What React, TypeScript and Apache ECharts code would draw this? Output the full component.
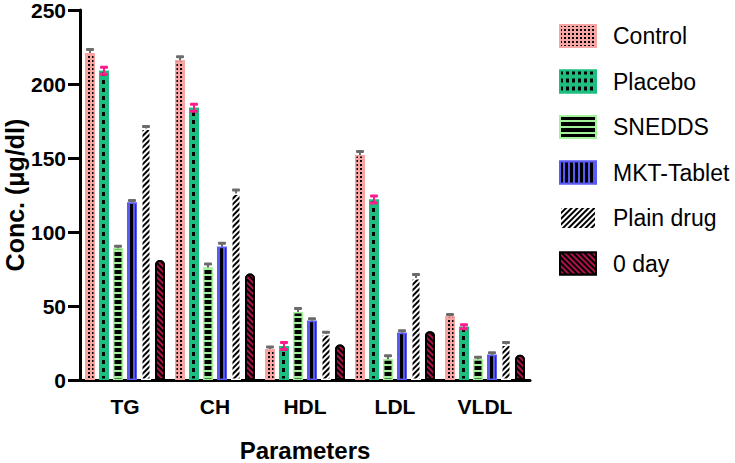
import React, { useEffect, useRef } from "react";
import * as echarts from "echarts";

const categories = ["TG", "CH", "HDL", "LDL", "VLDL"];
const seriesNames = ["Control", "Placebo", "SNEDDS", "MKT-Tablet", "Plain drug", "0 day"];
const control = [221, 216, 21, 152, 43];
const placebo = [209, 184, 23, 122, 36];
const snedds = [89, 76, 46, 14, 14];
const mkt = [120, 90, 40, 32, 17];
const plain = [170, 126, 31, 69, 24];
const day0 = [81, 72, 24, 33, 17];
const controlErr = [2, 2, 1, 2, 1];
const placeboErr = [2, 2, 2, 2, 1];
const sneddsErr = [1, 2, 2, 2, 1];
const mktErr = [1, 2, 1, 1, 1];
const plainErr = [1, 2, 1, 2, 1];
const day0Err = [0, 0, 0, 0, 0];
const yTicks = [0, 50, 100, 150, 200, 250];
const yTitle = "Conc. (μg/dl)";
const xTitle = "Parameters";

const values = [control, placebo, snedds, mkt, plain, day0];
const errs = [controlErr, placeboErr, sneddsErr, mktErr, plainErr, day0Err];

const FONT = "'Liberation Sans', Arial";
const fills = ["#F6A5A3", "#1CBF7F", "#A4F29A", "#5A5AF4", "#FFFFFF", "#000000"];
const decals: any[] = [
  { symbol: "rect", symbolSize: 1, color: "#000", dashArrayX: [2, 2], dashArrayY: [2, 2], rotation: 0 },
  { symbol: "rect", symbolSize: 1, color: "#000", dashArrayX: [3, 3], dashArrayY: [4, 4], rotation: 0 },
  { symbol: "rect", symbolSize: 1, color: "#000", dashArrayX: [1, 0], dashArrayY: [4, 2], rotation: 0 },
  { symbol: "rect", symbolSize: 1, color: "#000", dashArrayX: [3, 2], dashArrayY: [1, 0], rotation: 0 },
  { symbol: "rect", symbolSize: 1, color: "#000", dashArrayX: [1, 0], dashArrayY: [2, 2], rotation: -Math.PI / 4 },
  { symbol: "rect", symbolSize: 1, color: "#B0104C", dashArrayX: [1, 0], dashArrayY: [2, 2], rotation: Math.PI / 4 },
];
const borders = ["#F6A5A3", "#1CBF7F", "#A4F29A", "#5A5AF4", "#FFFFFF", "#000000"];
const capColors = ["#6B6B6B", "#FF1A8C", "#6B6B6B", "#6B6B6B", "#6B6B6B", "#000"];

const BAR_W = 10;
const BAR_STEP = 14;

export default function App() {
  const ref = useRef<HTMLDivElement>(null);
  useEffect(() => {
    const chart = echarts.init(ref.current!, null, { renderer: "svg" });
    const errData: any[] = [];
    values.forEach((arr, s) => {
      arr.forEach((v, c) => {
        if (errs[s][c] > 0) errData.push([c, s, v, errs[s][c]]);
      });
    });
    const barSeries = values.map((arr, s) => ({
      name: seriesNames[s],
      type: "bar",
      data: arr,
      barWidth: BAR_W,
      barGap: "40%",
      itemStyle: {
        color: fills[s],
        borderColor: borders[s],
        borderWidth: s === 5 ? 2 : 1.5,
        decal: decals[s],
        borderRadius: s === 5 ? [4, 4, 0, 0] : 0,
      },
    }));
    const errSeries = {
      type: "custom",
      z: 5,
      silent: true,
      data: errData,
      encode: { x: 0, y: 2 },
      renderItem: (params: any, api: any) => {
        const c = api.value(0);
        const s = api.value(1);
        const v = api.value(2);
        const e = api.value(3);
        const top = api.coord([c, v + e]);
        const bot = api.coord([c, s === 1 ? v - e : v]);
        const x = top[0] + (s - 2.5) * BAR_STEP;
        const col = capColors[s];
        const children: any[] = [
          { type: "line", shape: { x1: x, y1: top[1], x2: x, y2: bot[1] }, style: { stroke: col, lineWidth: 2 } },
          { type: "rect", shape: { x: x - 4, y: top[1] - 2, width: 8, height: 3, r: 1 }, style: { fill: col } },
        ];
        if (s === 1) {
          children.push({ type: "rect", shape: { x: x - 4, y: bot[1] - 1, width: 8, height: 3, r: 1 }, style: { fill: col } });
        }
        return { type: "group", children };
      },
    };
    chart.setOption({
      animation: false,
      aria: { enabled: false },
      grid: { left: 80, right: 205, top: 10, bottom: 83, containLabel: false, outerBoundsMode: "none" },
      graphic: [
        {
          type: "text",
          x: 15,
          y: 195,
          rotation: Math.PI / 2,
          style: {
            text: yTitle,
            fontFamily: FONT,
            fontWeight: "bold",
            fontSize: 25,
            fill: "#000",
            textAlign: "center",
            textVerticalAlign: "middle",
          },
        },
      ],
      legend: {
        orient: "vertical",
        left: 554,
        top: 19,
        icon: "rect",
        itemWidth: 36,
        itemHeight: 22,
        itemGap: 21.5,
        data: seriesNames,
        textStyle: { fontFamily: FONT, fontSize: 23, lineHeight: 22, color: "#000", padding: [0, 0, 0, 12] },
      },
      xAxis: {
        type: "category",
        data: categories,
        name: xTitle,
        nameLocation: "middle",
        nameGap: 58,
        nameMoveOverlap: false,
        nameTextStyle: { fontFamily: FONT, fontWeight: "bold", fontSize: 24, color: "#000" },
        axisLine: { lineStyle: { color: "#000", width: 3 } },
        axisTick: { alignWithLabel: true, length: 8, lineStyle: { color: "#000", width: 3 } },
        axisLabel: { fontFamily: FONT, fontWeight: "bold", fontSize: 21, color: "#000", margin: 16 },
      },
      yAxis: {
        type: "value",
        min: yTicks[0],
        max: yTicks[yTicks.length - 1],
        interval: 50,
        axisLine: { show: true, lineStyle: { color: "#000", width: 3 } },
        axisTick: { show: true, length: 12, lineStyle: { color: "#000", width: 3 } },
        axisLabel: { fontFamily: FONT, fontWeight: "bold", fontSize: 21, color: "#000", margin: 14 },
        splitLine: { show: false },
      },
      series: [...barSeries, errSeries],
    });
    return () => chart.dispose();
  }, []);
  return <div ref={ref} style={{ width: 735, height: 463, position: "absolute", left: 0, top: 0 }} />;
}
